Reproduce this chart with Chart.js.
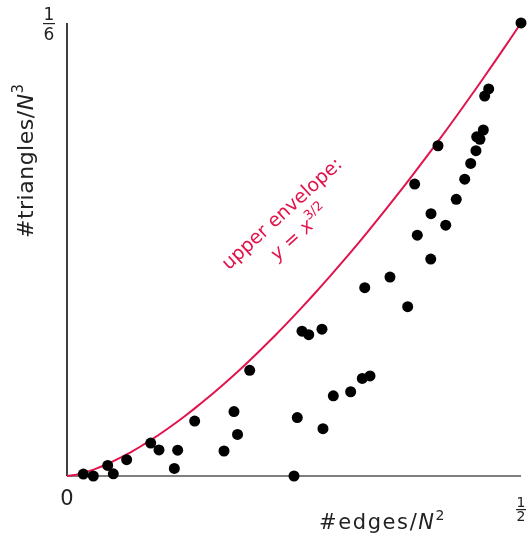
<!DOCTYPE html>
<html lang="en">
<head>
<meta charset="UTF-8" />
<title>Triangles vs edges</title>
<script src="https://cdn.jsdelivr.net/npm/chart.js"></script>
<style>
  html, body { margin: 0; padding: 0; background: #fff; }
  #wrap { width: 529px; height: 537px; }
</style>
</head>
<body>
<div id="wrap"><canvas id="chart" width="529" height="537"></canvas></div>
<script>
// edge count / N^2 for each sampled graph
const edgeDensity = [
  0.500, 0.4644, 0.4600, 0.4585, 0.4512, 0.4548, 0.4504, 0.4446, 0.4380, 0.4287,
  0.4086, 0.3829, 0.4009, 0.4171, 0.3858, 0.4006, 0.3557, 0.3279, 0.3752, 0.2588,
  0.2662, 0.2808, 0.2012, 0.3252, 0.3337, 0.3124, 0.2933, 0.2536, 0.2819, 0.2500,
  0.1839, 0.1878, 0.1406, 0.1729, 0.1219, 0.1182, 0.0922, 0.1013, 0.0657, 0.0448,
  0.0510, 0.0180, 0.0290
];
// triangle count / N^3 for the same graphs
const triangleDensity = [
  0.1667, 0.1424, 0.1398, 0.1273, 0.1248, 0.1239, 0.1197, 0.1150, 0.1092, 0.1018,
  0.1215, 0.1074, 0.0965, 0.0923, 0.0886, 0.0798, 0.0732, 0.0693, 0.0623, 0.0533,
  0.0520, 0.0540, 0.0389, 0.0359, 0.0368, 0.0310, 0.0295, 0.0215, 0.0174, 0.0000,
  0.0237, 0.0153, 0.0202, 0.0092, 0.0095, 0.0028, 0.0121, 0.0096, 0.0060, 0.0039,
  0.0008, 0.0007, 0.0000
];
const xMax = 0.5;
const yMax = 1 / 6;

// upper envelope y = x^(3/2) in normalised densities
const envelope = [];
for (let i = 0; i <= 50; i++) {
  const x = xMax * i / 50;
  envelope.push({ x: x, y: yMax * Math.pow(x / xMax, 1.5) });
}

const RED = '#e2134b';
const FONT = '"DejaVu Sans", sans-serif';

function drawParts(ctx, parts, x, y) {
  let cx = x;
  parts.forEach(p => {
    ctx.font = p.font;
    ctx.fillText(p.t, cx, y + (p.dy || 0));
    cx += ctx.measureText(p.t).width;
  });
}
function partsWidth(ctx, parts) {
  let w = 0;
  parts.forEach(p => { ctx.font = p.font; w += ctx.measureText(p.t).width; });
  return w;
}

const decor = {
  id: 'decor',
  beforeDatasetsDraw(chart) {
    const ctx = chart.ctx;
    const a = chart.chartArea;
    ctx.save();
    ctx.lineWidth = 1.5;
    ctx.strokeStyle = '#555';
    ctx.beginPath();
    ctx.moveTo(a.left, a.bottom);
    ctx.lineTo(a.right, a.bottom);
    ctx.stroke();
    ctx.strokeStyle = '#000';
    ctx.beginPath();
    ctx.moveTo(a.left, a.top);
    ctx.lineTo(a.left, a.bottom);
    ctx.stroke();
    ctx.restore();
  },
  afterDraw(chart) {
    const ctx = chart.ctx;
    const a = chart.chartArea;
    ctx.save();
    ctx.fillStyle = '#222';
    ctx.textBaseline = 'alphabetic';

    // tick labels
    ctx.textAlign = 'center';
    ctx.font = '21px ' + FONT;
    ctx.fillText('0', a.left, 505);
    ctx.font = '17px ' + FONT;
    ctx.fillText('1', 49, 20);
    ctx.fillText('6', 49, 40);
    ctx.fillRect(43, 23, 12, 1.2);
    ctx.font = '14px ' + FONT;
    ctx.fillText('1', a.right, 507);
    ctx.fillText('2', a.right, 521);
    ctx.fillRect(516, 509, 10, 1.2);

    // axis titles
    ctx.textAlign = 'left';
    ctx.letterSpacing = '1.6px';
    const xt = [
      { t: '#edges/', font: '21px ' + FONT },
      { t: 'N', font: 'italic 21px ' + FONT },
      { t: '2', font: '14px ' + FONT, dy: -9 }
    ];
    drawParts(ctx, xt, 319, 529);
    ctx.letterSpacing = '0.5px';
    const yt = [
      { t: '#triangles/', font: '22px ' + FONT },
      { t: 'N', font: 'italic 22px ' + FONT },
      { t: '3', font: '15px ' + FONT, dy: -10 }
    ];
    ctx.save();
    ctx.translate(33, 238);
    ctx.rotate(-Math.PI / 2);
    drawParts(ctx, yt, 0, 0);
    ctx.restore();
    ctx.letterSpacing = '0px';

    // envelope annotation
    ctx.fillStyle = RED;
    ctx.save();
    ctx.translate(286, 218);
    ctx.rotate(-42.5 * Math.PI / 180);
    const l1 = [{ t: 'upper envelope:', font: '19px ' + FONT }];
    drawParts(ctx, l1, -partsWidth(ctx, l1) / 2, 0);
    const l2 = [
      { t: 'y', font: 'italic 19px ' + FONT },
      { t: ' = ', font: '19px ' + FONT },
      { t: 'x', font: 'italic 19px ' + FONT },
      { t: '3/2', font: '13px ' + FONT, dy: -9 }
    ];
    drawParts(ctx, l2, -partsWidth(ctx, l2) / 2, 26);
    ctx.restore();
    ctx.restore();
  }
};

new Chart(document.getElementById('chart'), {
  type: 'scatter',
  data: {
    datasets: [
      {
        label: 'graphs',
        data: edgeDensity.map((x, i) => ({ x: x, y: triangleDensity[i] })),
        pointRadius: 5.5,
        pointBackgroundColor: '#000',
        pointBorderWidth: 0,
        clip: false
      },
      {
        label: 'envelope',
        data: envelope,
        showLine: true,
        pointRadius: 0,
        borderColor: RED,
        borderWidth: 2,
        tension: 0,
        clip: false
      }
    ]
  },
  options: {
    responsive: false,
    animation: false,
    layout: { padding: { left: 67, right: 8, top: 23, bottom: 61 } },
    plugins: { legend: { display: false }, tooltip: { enabled: false } },
    scales: {
      x: { type: 'linear', min: 0, max: xMax, display: false },
      y: { type: 'linear', min: 0, max: yMax, display: false }
    }
  },
  plugins: [decor]
});
</script>
</body>
</html>
